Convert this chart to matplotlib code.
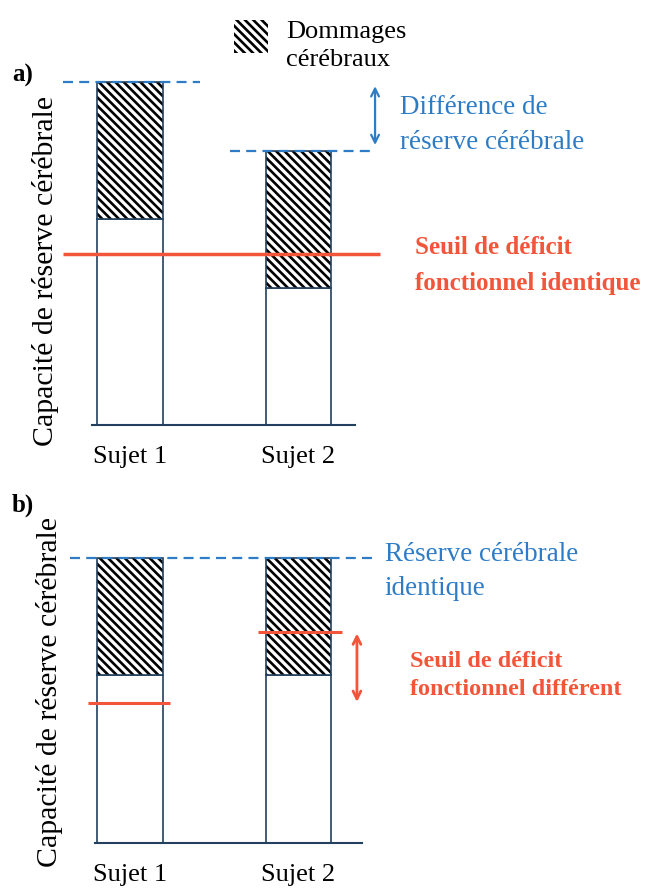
import numpy as np
import matplotlib
matplotlib.use('Agg')
import matplotlib.pyplot as plt
from matplotlib.patches import Rectangle

plt.rcParams['font.family'] = ['Liberation Serif', 'DejaVu Serif']
plt.rcParams['hatch.linewidth'] = 1.9

# data (relative capacity, top of the tallest bar = 100)
subjects = ['Sujet 1', 'Sujet 2']
reserve_a = [100, 80]
damage_a = [40, 40]
threshold_a = 50

reserve_b = [100, 100]
damage_b = [41, 41]
threshold_b = [49, 74]

BLUE = '#2e7cc6'
RED = '#f2553a'
EDGE = '#22405e'
W = 0.39
HATCH = '\\' * 4
DASH = (0, (4.5, 2.8))
FS = 19


def draw_bars(ax, reserve, damage):
    x = np.arange(len(subjects))
    intact = np.array(reserve) - np.array(damage)
    ax.bar(x, intact, W, color='white', edgecolor=EDGE, lw=1.2, zorder=2, clip_on=False)
    ax.bar(x, damage, W, bottom=intact, facecolor='white', edgecolor='black',
           hatch=HATCH, lw=0, zorder=2, clip_on=False)
    ax.bar(x, damage, W, bottom=intact, fill=False, edgecolor=EDGE, lw=1.2,
           zorder=2, clip_on=False)
    ax.set_xticks(x, subjects)
    ax.set_yticks([])
    ax.tick_params(length=0, labelsize=FS, pad=15)
    for s in ['top', 'right', 'left']:
        ax.spines[s].set_visible(False)
    ax.spines['bottom'].set_color(EDGE)
    ax.spines['bottom'].set_linewidth(1.5)
    ax.set_ylim(0, 100)
    ax.set_ylabel('Capacité de réserve cérébrale', fontsize=21.5)
    ax.patch.set_alpha(0)
    return x


fig = plt.figure(figsize=(6.46, 8.89), dpi=100)

# ---- panel a
ax_a = fig.add_axes([92 / 646, 1 - 425 / 889, 263 / 646, 343 / 889])
x = draw_bars(ax_a, reserve_a, damage_a)
ax_a.set_xlim(-0.2255, 1.335)
ax_a.yaxis.set_label_coords(-0.125, 0.45)

ax_a.hlines(reserve_a[0], -0.40, 0.415, colors=BLUE, linestyles=DASH, lw=1.6,
            zorder=4, clip_on=False)
ax_a.hlines(reserve_a[1], 0.593, 1.454, colors=BLUE, linestyles=DASH, lw=1.6,
            zorder=4, clip_on=False)
ax_a.annotate('', xy=(1.454, reserve_a[0]), xytext=(1.454, reserve_a[1]),
              arrowprops=dict(arrowstyle='<->', color=BLUE, lw=1.6,
                              shrinkA=4, shrinkB=3, mutation_scale=14),
              annotation_clip=False)
ax_a.hlines(threshold_a, -0.40, 1.484, colors=RED, lw=2.5, zorder=4, clip_on=False)

ax_a.text(1.602, 87.5, 'Différence de\nréserve cérébrale', color=BLUE, fontsize=19.5,
          ha='left', va='center', linespacing=1.49)
ax_a.text(1.691, 46.5, 'Seuil de déficit\nfonctionnel identique', color=RED,
          fontsize=18, fontweight='bold', ha='left', va='center', linespacing=1.7)

# ---- panel b
ax_b = fig.add_axes([95 / 646, 1 - 843 / 889, 267 / 646, 285 / 889])
x = draw_bars(ax_b, reserve_b, damage_b)
ax_b.set_xlim(-0.2077, 1.377)
ax_b.yaxis.set_label_coords(-0.12, 0.53)

ax_b.hlines(reserve_b[0], -0.356, 1.454, colors=BLUE, linestyles=DASH, lw=1.6,
            zorder=4, clip_on=False)
ax_b.hlines(threshold_b[0], x[0] - W / 2 - 0.055, x[0] + W / 2 + 0.045, colors=RED,
            lw=2.2, zorder=4, clip_on=False)
ax_b.hlines(threshold_b[1], x[1] - W / 2 - 0.045, x[1] + W / 2 + 0.065, colors=RED,
            lw=2.2, zorder=4, clip_on=False)
ax_b.annotate('', xy=(1.347, threshold_b[1]), xytext=(1.347, threshold_b[0]),
              arrowprops=dict(arrowstyle='<->', color=RED, lw=2.0,
                              shrinkA=1, shrinkB=1, mutation_scale=14),
              annotation_clip=False)

ax_b.text(1.513, 95.3, 'Réserve cérébrale\nidentique', color=BLUE, fontsize=19.5,
          ha='left', va='center', linespacing=1.44)
ax_b.text(1.662, 58.8, 'Seuil de déficit\nfonctionnel différent', color=RED,
          fontsize=17.5, fontweight='bold', ha='left', va='center', linespacing=1.45)

# ---- panel letters and legend
fig.text(12 / 646, 1 - 75 / 889, 'a)', fontsize=18, fontweight='bold', va='center')
fig.text(12 / 646, 1 - 505 / 889, 'b)', fontsize=18, fontweight='bold', va='center')

fig.add_artist(Rectangle((234 / 646, 1 - 53 / 889), 34 / 646, 33 / 889,
                         transform=fig.transFigure, facecolor='white',
                         edgecolor='black', hatch=HATCH, lw=0))
fig.text(286 / 646, 1 - 46 / 889, 'Dommages\ncérébraux', fontsize=19,
         ha='left', va='center', linespacing=1.39)

fig.savefig('out.png', dpi=100)
